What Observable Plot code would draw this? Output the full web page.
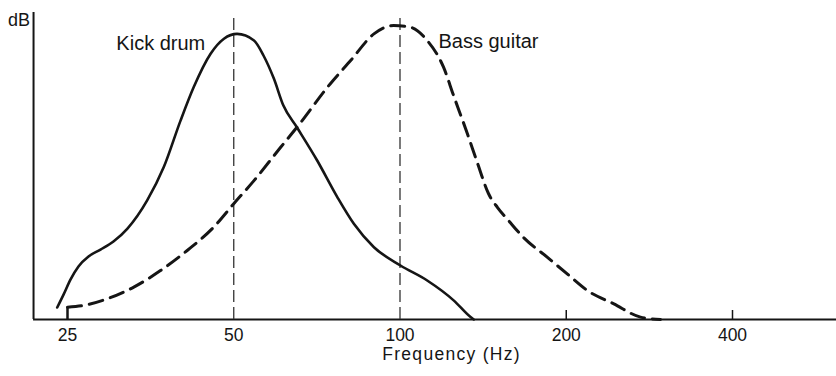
<!DOCTYPE html>
<html>
<head>
<meta charset="utf-8">
<script src="https://cdn.jsdelivr.net/npm/d3@7"></script>
<script src="https://cdn.jsdelivr.net/npm/@observablehq/plot@0.6"></script>
<style>
  html, body { margin: 0; padding: 0; background: #fff; }
  svg { display: block; }
</style>
</head>
<body>
<div id="chart"></div>
<script>
// Frequency axis ticks (Hz)
const tickFreqs = [25, 50, 100, 200, 400];
const tickLabels = ["25", "50", "100", "200", "400"];
const smallTicks = [200, 400];
const guideFreqs = [50, 100];
const guideTops = [102, 101];

// Kick drum response (solid)
const kickFreq = [23.95, 24.59, 25.31, 26.17, 27.29, 28.69, 30.28, 32.1, 34.85, 37.35, 40.05, 42.3, 45.4, 48.0, 50.7, 54.4, 56.6, 59.1, 61.5, 65.1, 70.8, 77.0, 82.5, 89.7, 100.2, 112, 125.2, 134.2, 136];
const kickDb   = [4.0, 8.3, 13.3, 17.7, 21.0, 23.3, 26.0, 30.3, 39.7, 50.8, 66.3, 77.4, 88.6, 93.6, 95.2, 93.0, 88.0, 80.3, 71.3, 64.0, 53.0, 40.8, 31.9, 24.1, 18.0, 13.0, 6.3, 0.8, 0];

// Bass guitar response (dashed)
const bassFreq = [25.0, 26.76, 29.5, 32.96, 36.84, 41.18, 46.0, 50.0, 54.4, 60.8, 65.1, 74.8, 81.4, 89.7, 97.4, 104.5, 112, 119.9, 125.0, 132.4, 138.2, 144.6, 150.2, 157.2, 167.4, 184.7, 200.8, 218.3, 243.9, 272.6, 296.3];
const bassDb   = [4.1, 4.7, 6.9, 10.8, 16.3, 23.0, 30.8, 38.6, 46.3, 57.4, 64.1, 78.6, 86.3, 95.2, 98.0, 97.4, 93.0, 84.1, 74.7, 62.0, 52.0, 42.0, 37.3, 33.0, 27.3, 20.8, 15.2, 9.7, 5.2, 0.8, 0];
const bassStub = {f: 25, from: 0, to: 4.1};

// Frame
const frameLeftFreq = 21.7;
const frameRightFreq = 640;
const frameTopDb = 102.3;

// Annotations
const kickLabel = {t: "Kick drum", f: 44.4, v: 92.0};
const bassLabel = {t: "Bass guitar", f: 117.4, v: 92.5};
const unitLabel = {t: "dB", f: 19.5, v: 99.9};
const axisTitle = {t: "Frequency (Hz)", f: 124, v: -11.7};

const kick = kickFreq.map((f, i) => ({f, v: kickDb[i]}));
const bass = bassFreq.map((f, i) => ({f, v: bassDb[i]}));
const guides = guideFreqs.map((f, i) => ({f, top: guideTops[i]}));

const font = "Liberation Sans, Arial, Helvetica, sans-serif";
const ink = "#151515";

const chart = Plot.plot({
  width: 836,
  height: 376,
  marginLeft: 67,
  marginRight: 104,
  marginTop: 19,
  marginBottom: 57,
  style: {fontFamily: font, background: "#fff", color: ink},
  x: {type: "log", domain: [25, 400]},
  y: {domain: [0, 100], axis: null},
  marks: [
    // frame lines
    Plot.ruleY([0], {x1: frameLeftFreq, x2: frameRightFreq, stroke: ink, strokeWidth: 2}),
    Plot.ruleX([frameLeftFreq], {y1: 0, y2: frameTopDb, stroke: ink, strokeWidth: 2}),
    // guide lines
    Plot.ruleX(guides, {x: "f", y1: 0, y2: "top", stroke: "#333", strokeWidth: 1.3, strokeDasharray: "12,5"}),
    // small ticks
    Plot.ruleX(smallTicks, {y1: 0, y2: 3, stroke: ink, strokeWidth: 1.5}),
    // tick labels
    Plot.axisX(tickFreqs, {tickSize: 0, tickPadding: 9.5, fontSize: 17.5, tickFormat: (d) => tickLabels[tickFreqs.indexOf(d)], label: null, stroke: null}),
    // bass stub
    Plot.ruleX([bassStub], {x: "f", y1: "from", y2: "to", stroke: ink, strokeWidth: 2.5}),
    // curves
    Plot.line(bass, {x: "f", y: "v", curve: "monotone-x", stroke: ink, strokeWidth: 3, strokeDasharray: "14,8"}),
    Plot.line(kick, {x: "f", y: "v", curve: "monotone-x", stroke: ink, strokeWidth: 2.6}),
    // annotations
    Plot.text([kickLabel], {x: "f", y: "v", text: "t", textAnchor: "end", fontSize: 20, fill: ink}),
    Plot.text([bassLabel], {x: "f", y: "v", text: "t", textAnchor: "start", fontSize: 20, fill: ink}),
    Plot.text([unitLabel], {x: "f", y: "v", text: "t", textAnchor: "start", fontSize: 18, fill: ink}),
    Plot.text([axisTitle], {x: "f", y: "v", text: "t", fontSize: 17.5, fill: ink})
  ]
});

chart.querySelectorAll("text").forEach((t) => {
  if (t.textContent === axisTitle.t) t.setAttribute("letter-spacing", "1.3");
  if (tickLabels.includes(t.textContent)) t.setAttribute("font-size", "17.5");
});
chart.querySelectorAll("g[aria-label='x-axis tick label']").forEach((g) => g.setAttribute("font-size", "17.5"));

document.getElementById("chart").appendChild(chart);
</script>
</body>
</html>
